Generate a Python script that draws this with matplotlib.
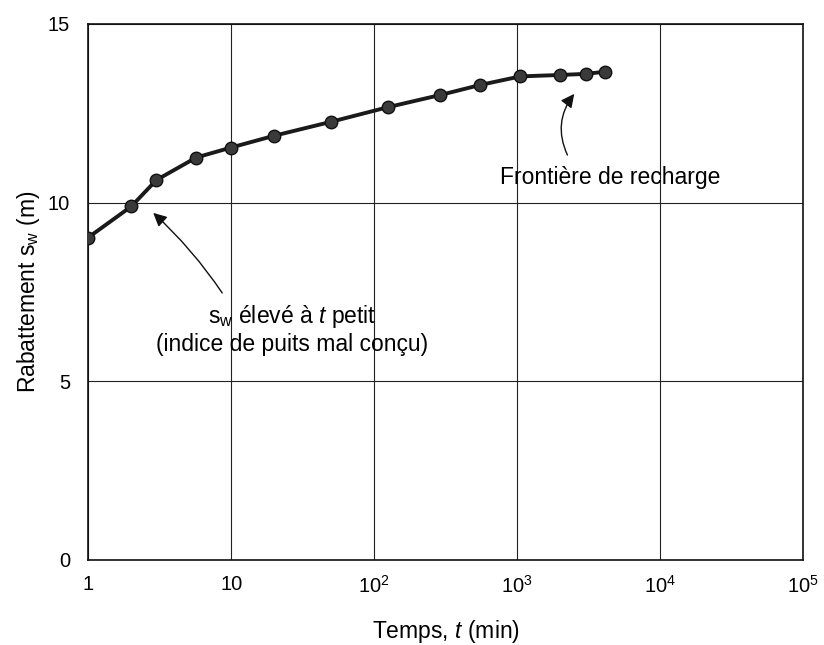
import matplotlib
matplotlib.use("Agg")
import matplotlib.pyplot as plt
from matplotlib.ticker import FixedLocator, FixedFormatter

plt.rcParams['font.family'] = ['Liberation Sans', 'DejaVu Sans']
plt.rcParams['mathtext.fontset'] = 'custom'
plt.rcParams['mathtext.rm'] = 'Liberation Sans'
plt.rcParams['mathtext.it'] = 'Liberation Sans:italic'

# Data
temps = [1, 2, 3, 5.7, 10, 20, 50, 125, 290, 550, 1050, 2000, 3000, 4100]
rabattement = [9.02, 9.89, 10.63, 11.26, 11.54, 11.87, 12.26, 12.67, 13.01, 13.29, 13.53, 13.57, 13.60, 13.66]
x_ticks = [1, 10, 100, 1000, 10000, 100000]
x_ticklabels = ['1', '10', r'$10^2$', r'$10^3$', r'$10^4$', r'$10^5$']
y_ticks = [0, 5, 10, 15]

fig = plt.figure(figsize=(8.24, 6.45), dpi=100)
ax = fig.add_axes([0.107, 0.132, 0.868, 0.831])

ax.plot(temps, rabattement, color='#1a1a1a', lw=2.8, marker='o', ms=9,
        markerfacecolor='#3a3a3a', markeredgecolor='#111111', zorder=3)

ax.set_xscale('log')
ax.set_xlim(1, 1e5)
ax.set_ylim(0, 15)
ax.xaxis.set_major_locator(FixedLocator(x_ticks))
ax.xaxis.set_major_formatter(FixedFormatter(x_ticklabels))
ax.xaxis.set_minor_locator(FixedLocator([]))
ax.set_yticks(y_ticks)
ax.tick_params(length=0, labelsize=14.5, pad=11)
ax.tick_params(axis='y', pad=13)
ax.grid(True, color='#222222', lw=0.8)
for s in ax.spines.values():
    s.set_linewidth(1.2)
    s.set_color('#111111')

ax.set_xlabel(r'Temps, $t$ (min)', fontsize=16.5, labelpad=15)
ax.set_ylabel(r'Rabattement s$_\mathrm{w}$ (m)', fontsize=16.5, labelpad=4)

ax.text(26.7, 6.8, r's$_\mathrm{w}$ élevé à $t$ petit', fontsize=16.5, ha='center', va='center')
ax.text(26.7, 6.02, '(indice de puits mal conçu)', fontsize=16.5, ha='center', va='center')
ax.annotate('', xy=(2.85, 9.71), xytext=(8.65, 7.47),
            arrowprops=dict(arrowstyle='-|>', color='#111111', lw=1.0,
                            connectionstyle='arc3,rad=0.06', mutation_scale=20,
                            shrinkA=0, shrinkB=0))

ax.text(4470, 10.69, 'Frontière de recharge', fontsize=16.5, ha='center', va='center')
ax.annotate('', xy=(2500, 13.04), xytext=(2240, 11.33),
            arrowprops=dict(arrowstyle='-|>', color='#111111', lw=1.0,
                            connectionstyle='arc3,rad=-0.3', mutation_scale=20,
                            shrinkA=0, shrinkB=0))

fig.savefig('out.png', dpi=100)
